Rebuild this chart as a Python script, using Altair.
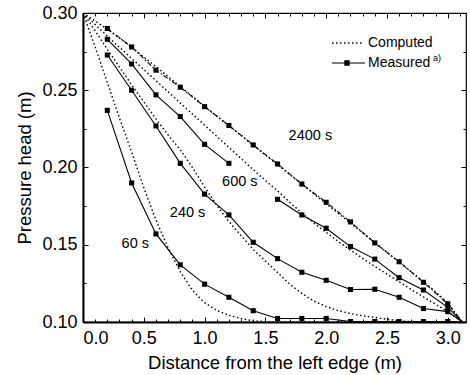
import altair as alt
import pandas as pd

# ---------------- data ----------------
x_meas = [0.2, 0.4, 0.6, 0.8, 1.0, 1.2, 1.4, 1.6, 1.8, 2.0, 2.2, 2.4, 2.6, 2.8, 3.0]
meas_60 = [0.237, 0.190, 0.157, 0.137, 0.1245, 0.116, 0.1073, 0.1023, 0.1023, 0.1023,
           0.1003, 0.1003, 0.1003, 0.1003, 0.1003]
meas_240 = [0.2728, 0.250, 0.2269, 0.2027, 0.1828, 0.1693, 0.1516, 0.1410, 0.1322, 0.1270,
            0.1210, 0.1212, 0.1160, 0.1087, 0.1067]
meas_600 = [0.283, 0.267, 0.247, 0.233, 0.215, 0.2027, None, 0.1794, 0.1693, 0.1607,
            0.1488, 0.1407, 0.1287, 0.1207, 0.1095]
meas_2400 = [0.290, 0.278, 0.263, 0.252, 0.2394, 0.2272, 0.2146, 0.2023, 0.1893, 0.1775,
             0.1648, 0.1512, 0.1390, 0.1257, 0.1118]
x_end = 3.12
y_end = 0.10

x_comp = [0.0, 0.1, 0.2, 0.3, 0.4, 0.5, 0.6, 0.7, 0.8, 0.9, 1.0, 1.1, 1.2, 1.3, 1.4, 1.5,
          1.6, 1.7, 1.8, 1.9, 2.0, 2.1, 2.2, 2.3, 2.4, 2.5, 2.6, 2.7, 2.8, 2.9, 3.0, 3.12]
comp_60 = [0.300, 0.278, 0.255, 0.232, 0.210, 0.187, 0.166, 0.148, 0.1325, 0.1205, 0.1125,
           0.1075, 0.1043, 0.1022, 0.1008, 0.1002, 0.100, 0.100, 0.100, 0.100, 0.100, 0.100,
           0.100, 0.100, 0.100, 0.100, 0.100, 0.100, 0.100, 0.100, 0.100, 0.100]
comp_240 = [0.300, 0.2885, 0.2765, 0.265, 0.2535, 0.2425, 0.2315, 0.221, 0.2115, 0.200,
            0.1875, 0.1755, 0.165, 0.156, 0.147, 0.1395, 0.132, 0.1245, 0.1185, 0.1135,
            0.110, 0.1073, 0.1055, 0.104, 0.103, 0.1018, 0.1008, 0.1003, 0.100, 0.100,
            0.100, 0.100]
comp_600 = [0.300, 0.2925, 0.285, 0.2778, 0.2706, 0.2634, 0.2562, 0.249, 0.2418, 0.2346,
            0.2274, 0.2202, 0.213, 0.2058, 0.1986, 0.1916, 0.1849, 0.1775, 0.1705, 0.164,
            0.158, 0.152, 0.1465, 0.1412, 0.136, 0.131, 0.126, 0.121, 0.1162, 0.1115,
            0.1065, 0.100]
comp_2400 = [0.300, 0.2948, 0.2895, 0.2838, 0.2778, 0.2715, 0.2652, 0.2588, 0.2524, 0.246,
             0.2396, 0.2333, 0.227, 0.2207, 0.2144, 0.2081, 0.2018, 0.1955, 0.1892, 0.1829,
             0.1766, 0.1703, 0.164, 0.1577, 0.1514, 0.1451, 0.1388, 0.1325, 0.1262, 0.1196,
             0.1122, 0.100]

series_names = ["60 s", "240 s", "600 s", "2400 s"]
label_x = [0.43, 0.86, 1.29, 1.87]
label_y = [0.1505, 0.1704, 0.1908, 0.2204]

x_labels = [0.0, 0.5, 1.0, 1.5, 2.0, 2.5, 3.0]
x_ticks = [0.0, 0.1, 0.2, 0.3, 0.4, 0.5, 0.6, 0.7, 0.8, 0.9, 1.0, 1.1, 1.2, 1.3, 1.4, 1.5,
           1.6, 1.7, 1.8, 1.9, 2.0, 2.1, 2.2, 2.3, 2.4, 2.5, 2.6, 2.7, 2.8, 2.9, 3.0, 3.1]
y_labels = [0.10, 0.15, 0.20, 0.25, 0.30]
y_ticks = [0.100, 0.125, 0.150, 0.175, 0.200, 0.225, 0.250, 0.275, 0.300]

# ---------------- tables ----------------
comp_rows = []
for name, vals in zip(series_names, [comp_60, comp_240, comp_600, comp_2400]):
    for xv, yv in zip(x_comp, vals):
        comp_rows.append({"x": xv, "y": yv, "series": name})
comp_df = pd.DataFrame(comp_rows)

line_rows, mark_rows = [], []
for name, vals in zip(series_names, [meas_60, meas_240, meas_600, meas_2400]):
    seg = 0
    for xv, yv in zip(x_meas, vals):
        if yv is None:
            seg += 1
            continue
        line_rows.append({"x": xv, "y": yv, "series": name, "seg": f"{name}-{seg}"})
        mark_rows.append({"x": xv, "y": yv, "series": name})
    line_rows.append({"x": x_end, "y": y_end, "series": name, "seg": f"{name}-{seg}"})
line_df = pd.DataFrame(line_rows)
mark_df = pd.DataFrame(mark_rows)
label_df = pd.DataFrame({"x": label_x, "y": label_y, "t": series_names})

W, H = 383, 309
xs = alt.Scale(domain=[0, 3.15], nice=False, zero=False)
ys = alt.Scale(domain=[0.10, 0.30], nice=False, zero=False)

major_x = "abs(datum.value*2 - round(datum.value*2)) < 0.001"
major_y = "abs(datum.value*20 - round(datum.value*20)) < 0.001"
tsx = {"condition": {"test": major_x, "value": 5}, "value": 3}
tsy = {"condition": {"test": major_y, "value": 5}, "value": 3}

ax_main_x = alt.Axis(orient="bottom", values=x_labels, format=".1f", labelFontSize=18,
                     labelPadding=7, ticks=False, domain=True, domainWidth=2,
                     domainColor="black", labelColor="black", grid=False,
                     title="Distance from the left edge (m)", titleFontSize=18.5,
                     titleFontWeight="normal", titleColor="black", titleY=46,
                     titleBaseline="alphabetic", titleAlign="center")
ax_main_y = alt.Axis(orient="left", values=y_labels, format=".2f", labelFontSize=18,
                     labelPadding=6, ticks=False, domain=True, domainWidth=2,
                     domainColor="black", labelColor="black", grid=False,
                     title="Pressure head (m)", titleFontSize=18.5,
                     titleFontWeight="normal", titleColor="black", titleX=-59,
                     titleY=H / 2, titleBaseline="middle", titleAlign="center")


def tick_axis(orient, offset, values, ts):
    return alt.Axis(orient=orient, offset=offset, values=values, labels=False,
                    domain=False, ticks=True, tickSize=ts, tickColor="black",
                    tickWidth=1, grid=False, title="")


comp = alt.Chart(comp_df).mark_line(
    color="black", strokeWidth=1.4, strokeDash=[1.5, 2.5], clip=True
).encode(
    x=alt.X("x:Q", scale=xs, axis=ax_main_x),
    y=alt.Y("y:Q", scale=ys, axis=ax_main_y),
    detail="series:N",
)

solid = alt.Chart(line_df[line_df.series != "2400 s"]).mark_line(
    color="black", strokeWidth=1.1, clip=True
).encode(
    x=alt.X("x:Q", scale=xs, axis=tick_axis("top", -H, x_ticks, tsx)),
    y=alt.Y("y:Q", scale=ys, axis=tick_axis("right", -W, y_ticks, tsy)),
    detail="seg:N",
)

dashdot = alt.Chart(line_df[line_df.series == "2400 s"]).mark_line(
    color="black", strokeWidth=1.1, strokeDash=[5, 2, 1.5, 2], clip=True
).encode(
    x=alt.X("x:Q", scale=xs, axis=tick_axis("bottom", -H, x_ticks, tsx)),
    y=alt.Y("y:Q", scale=ys, axis=tick_axis("left", -W, y_ticks, tsy)),
    detail="seg:N",
)

marks = alt.Chart(mark_df).mark_square(
    color="black", size=26, opacity=1, clip=True
).encode(
    x=alt.X("x:Q", scale=xs, axis=None),
    y=alt.Y("y:Q", scale=ys, axis=None),
)

labels = alt.Chart(label_df).mark_text(
    fontSize=14.5, color="black", align="center", baseline="middle"
).encode(
    x=alt.X("x:Q", scale=xs, axis=None),
    y=alt.Y("y:Q", scale=ys, axis=None),
    text="t:N",
)

one = pd.DataFrame({"k": [0]})
leg_comp_line = alt.Chart(one).mark_rule(
    color="black", strokeWidth=1.4, strokeDash=[1.5, 2.5]
).encode(x=alt.value(249), x2=alt.value(280), y=alt.value(30))
leg_meas_line = alt.Chart(one).mark_rule(color="black", strokeWidth=1.1).encode(
    x=alt.value(249), x2=alt.value(282), y=alt.value(50))
leg_meas_mark = alt.Chart(one).mark_square(color="black", size=30, opacity=1).encode(
    x=alt.value(264), y=alt.value(50))
leg_t1 = alt.Chart(one).mark_text(text="Computed", fontSize=14, align="left",
                                  baseline="middle", color="black").encode(
    x=alt.value(285), y=alt.value(30))
leg_t2 = alt.Chart(one).mark_text(text="Measured", fontSize=14, align="left",
                                  baseline="middle", color="black").encode(
    x=alt.value(285), y=alt.value(50))
leg_t3 = alt.Chart(one).mark_text(text="a)", fontSize=9, align="left",
                                  baseline="middle", color="black").encode(
    x=alt.value(350), y=alt.value(45))

chart = alt.layer(
    comp, solid, dashdot, marks, labels,
    leg_comp_line, leg_meas_line, leg_meas_mark, leg_t1, leg_t2, leg_t3,
).resolve_axis(
    x="independent", y="independent"
).properties(
    width=W, height=H,
    padding={"left": 83, "top": 13, "right": 4, "bottom": 53},
    autosize=alt.AutoSizeParams(type="none"),
    background="white",
).configure(
    font="Liberation Sans"
).configure_view(
    stroke="black", strokeWidth=1.2
)

chart.save("out.html", embed_options={"renderer": "svg", "actions": False})
